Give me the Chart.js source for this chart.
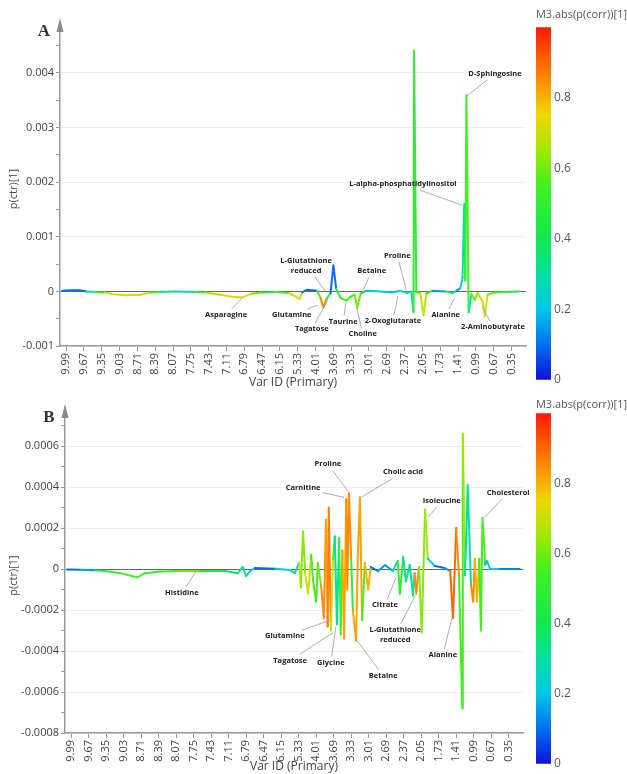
<!DOCTYPE html>
<html>
<head>
<meta charset="utf-8">
<script src="https://cdn.jsdelivr.net/npm/chart.js@4.4.1/dist/chart.umd.min.js"></script>
<style>
  body { margin: 0; background: #fff; width: 627px; height: 774px; position: relative; overflow: hidden; }
  canvas { position: absolute; }
</style>
</head>
<body>
<canvas id="plotA" width="545" height="390" style="left:0;top:0"></canvas>
<canvas id="barA" width="101" height="390" style="left:526px;top:0"></canvas>
<canvas id="plotB" width="545" height="387" style="left:0;top:387px"></canvas>
<canvas id="barB" width="101" height="387" style="left:526px;top:387px"></canvas>
<script>
// x axis: variable index, one tick label every 32 variables
const xTickLabels = ['9.99','9.67','9.35','9.03','8.71','8.39','8.07','7.75','7.43','7.11','6.79','6.47','6.15',
  '5.33','4.01','3.69','3.33','3.01','2.69','2.37','2.05','1.73','1.41','0.99','0.67','0.35'];

// panel A : p(ctr)[1] loadings, coloured by abs(p(corr))
const varA = [-7,7,25,36,52,70,83,106,133,151,169,196,232,250,277,298,316,334,352,376,399,412,419,424,432,442,451,
  457,462,467,475,480,485,493,503,511,518,523,529,539,565,586,600,613,620,624,625,629,636,642,647,658,681,694,701,
  708,712,715,717,719,723,728,734,739,748,752,757,771,789,813];
const pA = [0.00001,0.00002,0.00002,0,-0.00001,-0.00002,-0.00005,-0.00007,-0.00006,-0.00002,-0.00001,0,-0.00001,
  -0.00002,-0.00006,-0.0001,-0.00011,-0.00004,-0.00002,-0.00001,-0.00003,-0.00009,-0.00014,-0.00002,0.00003,0.00002,
  0.00001,-0.00012,-0.0003,-0.00015,-0.00003,0.00048,0.00005,-0.00012,-0.00017,-0.0001,-0.00006,-0.0003,-0.00004,
  0.00001,0,-0.00002,0.00001,-0.00003,0,-0.00038,0.00441,-0.00001,-0.00003,-0.00044,-0.00004,0.00001,0,-0.00003,
  0.00001,0.00006,0.00025,0.0016,0.0002,0.00359,-0.00038,-0.00005,-0.00016,-0.00003,-0.00018,-0.00046,-0.00006,
  -0.00002,-0.00001,0];
const corrA = [0.15,0.1,0.1,0.25,0.3,0.5,0.7,0.7,0.72,0.55,0.35,0.25,0.3,0.5,0.65,0.72,0.72,0.6,0.45,0.35,0.55,0.7,
  0.72,0.3,0.1,0.1,0.15,0.55,0.85,0.5,0.4,0.1,0.15,0.5,0.55,0.5,0.55,0.6,0.4,0.2,0.15,0.2,0.15,0.3,0.3,0.3,0.5,0.45,
  0.55,0.7,0.5,0.15,0.1,0.35,0.2,0.15,0.25,0.3,0.2,0.55,0.3,0.45,0.6,0.5,0.7,0.72,0.6,0.55,0.45,0.25];
const yMajorA = [-0.001, 0, 0.001, 0.002, 0.003, 0.004];
const yLabelsA = ['-0.001', '0', '0.001', '0.002', '0.003', '0.004'];
const yMinorA = [-0.0005, 0.0005, 0.0015, 0.0025, 0.0035, 0.0045];

const noteTextA = ['Asparagine','Glutamine','Tagatose','L-Glutathione\nreduced','Taurine','Choline','Betaine',
  '2-Oxoglutarate','Proline','Alanine','2-Aminobutyrate','L-alpha-phosphatidylinositol','D-Sphingosine'];
const noteVarA = [316, 452, 470, 467, 503, 522, 531, 596, 611, 698, 747, 711, 720];
const noteValA = [-0.00012,-0.00025,-0.00016,-0.00001,-0.00019,-0.00029,-0.00003,-0.00008,0.00003,-0.00012,
  -0.00027,0.00158,0.00358];

// panel B
const varB = [-7,16,44,62,90,113,122,135,163,199,236,281,305,314,320,327,336,373,400,409,417,420,424,428,433,439,
  442,448,451,457,462,466,469,471,475,479,482,486,490,493,496,499,503,505,508,512,515,521,524,528,532,537,543,548,
  561,574,588,597,601,607,612,619,625,628,631,636,641,647,652,665,683,693,698,704,709,715,716,720,725,731,735,738,
  742,746,749,752,757,760,766,784,820];
const pB = [-0.000002,-0.000004,-0.000006,-0.00001,-0.00002,-0.000035,-0.00004,-0.00002,-0.000012,-0.00001,
  -0.00001,-0.00001,-0.00002,0.00001,-0.000035,-0.00001,0.000005,0.000002,-0.000005,-0.00002,0.00003,-0.00009,
  0.000185,-0.00002,-0.00012,0.00007,-0.00005,-0.00016,0.00003,-0.00008,-0.00024,0.00024,-0.00028,0.0003,-0.0003,
  0.00005,0.00016,-0.00027,0.00015,-0.00032,0.00009,-0.00034,0.00034,-0.0001,0.00037,0.00005,-0.0002,-0.00035,
  0.00005,0.00035,-0.00025,0.00003,-0.0001,0.00001,-0.00001,0.00002,-0.00001,0.00004,-0.00012,0.00006,-0.00006,
  0.00002,-0.00013,-0.00002,-0.00012,0.00001,-0.00031,0.00029,0.00005,0.000015,0.000005,-0.00001,-0.00024,0.0002,
  -0.00003,-0.00068,0.00066,-0.00003,0.00041,-0.00008,-0.00016,0.00005,-0.00016,0.00005,-0.0003,0.00025,0.00002,
  0.00004,0,0,0];
const corrB = [0.1,0.1,0.15,0.35,0.5,0.55,0.55,0.5,0.55,0.6,0.45,0.35,0.35,0.3,0.3,0.2,0.1,0.12,0.2,0.3,0.25,0.7,
  0.62,0.4,0.7,0.55,0.45,0.55,0.4,0.6,0.85,0.85,0.82,0.87,0.72,0.5,0.55,0.3,0.5,0.55,0.15,0.82,0.85,0.3,0.85,0.3,
  0.5,0.82,0.4,0.82,0.55,0.15,0.8,0.1,0.12,0.15,0.2,0.3,0.5,0.3,0.35,0.3,0.3,0.2,0.85,0.15,0.62,0.65,0.2,0.1,0.1,
  0.15,0.9,0.85,0.3,0.55,0.65,0.3,0.3,0.2,0.85,0.4,0.8,0.4,0.55,0.55,0.3,0.2,0.2,0.12,0.1];
const yMajorB = [-0.0008, -0.0006, -0.0004, -0.0002, 0, 0.0002, 0.0004, 0.0006];
const yLabelsB = ['-0.0008', '-0.0006', '-0.0004', '-0.0002', '0', '0.0002', '0.0004', '0.0006'];
const yMinorB = [-0.0007, -0.0005, -0.0003, -0.0001, 0.0001, 0.0003, 0.0005, 0.0007];

const noteTextB = ['Histidine','Glutamine','Tagatose','Glycine','Betaine','Carnitine','Proline','Cholic acid',
  'Citrate','L-Glutathione\nreduced','Alanine','Isoleucine','Cholesterol'];
const noteVarB = [230, 473, 479, 484, 523, 499, 506, 530, 594, 629, 696, 652, 755];
const noteValB = [-0.000005,-0.00025,-0.00031,-0.00028,-0.00035,0.00035,0.00038,0.00035,-0.00004,-0.00013,
  -0.00024,0.00025,0.00025];

// colour bar ticks
const barTicks = [0, 0.2, 0.4, 0.6, 0.8];
const barTickLabels = ['0', '0.2', '0.4', '0.6', '0.8'];

// label offsets from their anchor point (px), layout only
const noteOffsetA = [[-16,17],[-26,10],[-16,29],[-20,-26],[-3,20],[6,27],[10,-22],[-5,25],[-9,-34],[-9,17],
  [11,21],[-59,-21],[28,-22]];
const noteOffsetB = [[-15,23],[-45,16],[-43,28],[-5,36],[26,35],[-41,-9],[-20,-27],[42,-25],[-11,28],[-20,39],
  [-9,37],[14,-17],[24,-25]];

Chart.defaults.font.family = '"Open Sans", sans-serif';
Chart.defaults.color = '#444';

const jet = [[0,[16,16,224]],[0.1,[0,112,240]],[0.2,[0,200,232]],[0.3,[0,224,160]],[0.4,[16,232,80]],
  [0.55,[64,240,32]],[0.65,[160,232,0]],[0.75,[240,216,0]],[0.85,[255,140,0]],[1,[255,26,0]]];

function jetColor(v) {
  for (let i = 1; i < jet.length; i++) {
    if (v <= jet[i][0]) {
      const [a, ca] = jet[i - 1], [b, cb] = jet[i];
      const t = (v - a) / (b - a);
      return 'rgb(' + ca.map((c, k) => Math.round(c + (cb[k] - c) * t)).join(',') + ')';
    }
  }
  return 'rgb(' + jet[jet.length - 1][1].join(',') + ')';
}

const decor = {
  id: 'decor',
  afterDraw(chart, args, opts) {
    const { ctx, chartArea: a, scales: { x, y } } = chart;
    ctx.save();
    // axis arrow
    ctx.fillStyle = '#8a8a8a';
    ctx.beginPath();
    ctx.moveTo(a.left, a.top - 14);
    ctx.lineTo(a.left - 3.5, a.top);
    ctx.lineTo(a.left + 3.5, a.top);
    ctx.closePath();
    ctx.fill();
    // panel letter
    ctx.fillStyle = '#333';
    ctx.font = 'bold 17px "Liberation Serif"';
    ctx.textAlign = 'center';
    ctx.textBaseline = 'middle';
    ctx.fillText(opts.letter, a.left - 16, a.top);
    // metabolite labels
    ctx.font = 'bold 7.5px "Open Sans"';
    opts.text.forEach((txt, i) => {
      const ax = x.getPixelForValue(opts.vars[i]), ay = y.getPixelForValue(opts.vals[i]);
      const cx = ax + opts.offsets[i][0], cy = ay + opts.offsets[i][1];
      const lines = txt.split('\n');
      const hw = Math.max(...lines.map(l => ctx.measureText(l).width)) / 2 + 2;
      const hh = lines.length * 5 + 1;
      const vx = ax - cx, vy = ay - cy;
      const t = Math.min(vx ? hw / Math.abs(vx) : Infinity, vy ? hh / Math.abs(vy) : Infinity);
      if (t < 1) {
        ctx.strokeStyle = '#9a9a9a';
        ctx.lineWidth = 0.8;
        ctx.beginPath();
        ctx.moveTo(cx + vx * t, cy + vy * t);
        ctx.lineTo(ax, ay);
        ctx.stroke();
      }
      ctx.fillStyle = '#222';
      lines.forEach((l, k) => ctx.fillText(l, cx, cy + (k - (lines.length - 1) / 2) * 10));
    });
    ctx.restore();
  }
};

function makePlot(id, vars, p, corr, yMajor, yLabels, yMinor, ymin, ymax, cfg) {
  new Chart(document.getElementById(id), {
    type: 'line',
    data: {
      datasets: [{
        data: vars.map((v, i) => ({ x: v, y: p[i] })),
        borderWidth: 2,
        pointRadius: 0,
        borderCapStyle: 'round',
        borderJoinStyle: 'round',
        tension: 0,
        segment: {
          borderColor: c => {
            const i0 = c.p0DataIndex, i1 = c.p1DataIndex;
            return jetColor(Math.abs(p[i0]) >= Math.abs(p[i1]) ? corr[i0] : corr[i1]);
          }
        }
      }]
    },
    options: {
      responsive: false,
      animation: false,
      events: [],
      layout: { padding: { top: cfg.top, right: cfg.right, left: 0, bottom: 0 } },
      plugins: {
        legend: { display: false },
        tooltip: { enabled: false },
        decor: { letter: cfg.letter, text: cfg.text, vars: cfg.vars, vals: cfg.vals, offsets: cfg.offsets }
      },
      scales: {
        x: {
          type: 'linear',
          min: -11,
          max: 826,
          afterBuildTicks: s => { s.ticks = xTickLabels.map((_, i) => ({ value: i * 32 })); },
          afterFit: s => { s.height = cfg.xh; },
          ticks: {
            autoSkip: false,
            minRotation: 90,
            maxRotation: 90,
            padding: 2,
            font: { size: 11 },
            callback: (v, i) => xTickLabels[i]
          },
          grid: { drawOnChartArea: false, tickLength: 5, tickColor: '#999' },
          border: { color: '#999', width: 1.5 },
          title: { display: true, text: 'Var ID (Primary)', font: { size: 12 }, padding: { top: 2, bottom: 0 } }
        },
        y: {
          min: ymin,
          max: ymax,
          afterBuildTicks: s => {
            s.ticks = yMajor.concat(yMinor).sort((a, b) => a - b).map(v => ({ value: v }));
          },
          afterFit: s => { s.width = cfg.yw; },
          ticks: {
            padding: 2,
            font: { size: 11 },
            callback: v => { const i = yMajor.indexOf(v); return i < 0 ? '' : yLabels[i]; }
          },
          grid: {
            tickLength: 4,
            tickColor: '#999',
            color: c => {
              if (!c.tick || yMajor.indexOf(c.tick.value) < 0) return 'rgba(0,0,0,0)';
              return c.tick.value === 0 ? '#666' : '#eeeeee';
            }
          },
          border: { color: '#999', width: 1.5 },
          title: { display: true, text: 'p(ctr)[1]', font: { size: 11 }, padding: { top: 7, bottom: 0 } }
        }
      }
    },
    plugins: [decor]
  });
}

function makeBar(id, titleTop, titleBottom, bottomPad) {
  new Chart(document.getElementById(id), {
    type: 'bar',
    data: {
      labels: [''],
      datasets: [{
        data: [[0, 1]],
        barPercentage: 1,
        categoryPercentage: 1,
        borderWidth: 0,
        backgroundColor: c => {
          const a = c.chart.chartArea;
          if (!a) return '#3f3';
          const g = c.chart.ctx.createLinearGradient(0, a.bottom, 0, a.top);
          jet.forEach(s => g.addColorStop(s[0], 'rgb(' + s[1].join(',') + ')'));
          return g;
        }
      }]
    },
    options: {
      responsive: false,
      animation: false,
      events: [],
      layout: { padding: { left: 10, right: 0, top: 0, bottom: bottomPad } },
      plugins: {
        legend: { display: false },
        tooltip: { enabled: false },
        title: {
          display: true,
          text: 'M3.abs(p(corr))[1]',
          color: '#555',
          font: { size: 11, weight: 'normal' },
          padding: { top: titleTop, bottom: titleBottom }
        }
      },
      scales: {
        x: { display: false },
        y: {
          position: 'right',
          min: 0,
          max: 1,
          afterBuildTicks: s => { s.ticks = barTicks.map(v => ({ value: v })); },
          afterFit: s => { s.width = 76; },
          ticks: {
            padding: 3,
            color: '#555',
            font: { size: 12 },
            callback: v => barTickLabels[barTicks.indexOf(v)]
          },
          grid: { display: false, drawTicks: false },
          border: { display: false }
        }
      }
    }
  });
}

makePlot('plotA', varA, pA, corrA, yMajorA, yLabelsA, yMinorA, -0.001, 0.00475,
  { top: 32, right: 19, yw: 60, xh: 44, letter: 'A', text: noteTextA, vars: noteVarA, vals: noteValA, offsets: noteOffsetA });
makePlot('plotB', varB, pB, corrB, yMajorB, yLabelsB, yMinorB, -0.0008, 0.000737,
  { top: 31, right: 22, yw: 65, xh: 41, letter: 'B', text: noteTextB, vars: noteVarB, vals: noteValB, offsets: noteOffsetB });
makeBar('barA', 8, 6, 7);
makeBar('barB', 11, 2, 7);
</script>
</body>
</html>
